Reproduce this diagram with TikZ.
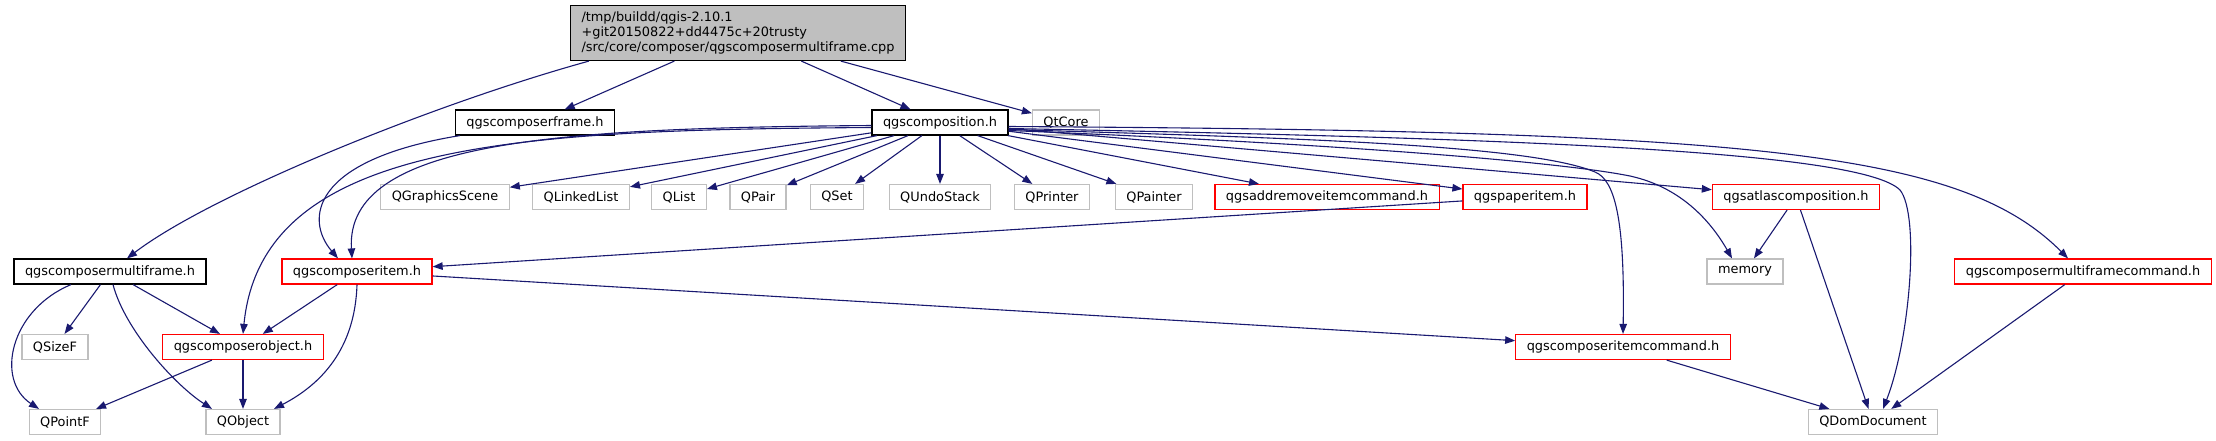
\documentclass[tikz,border=0pt]{standalone}
\usepackage{fontspec}
\setmainfont{DejaVu Sans}
\usetikzlibrary{arrows.meta}
\definecolor{edgeblue}{HTML}{191970}
\definecolor{extgray}{HTML}{BFBFBF}

\begin{document}
\begin{tikzpicture}[
    x=1pt, y=-1pt,
    box/.style={draw=black, line width=1.2pt, fill=white, inner xsep=11pt, inner ysep=0pt,
        minimum height=25pt, font=\fontsize{12.9}{15}\selectfont},
    rootbox/.style={box, fill=extgray, align=left, minimum height=55pt},
    redbox/.style={box, draw=red},
    extbox/.style={box, draw=extgray},
    line/.style={-{Triangle[length=10pt, width=7.5pt]}, draw=edgeblue, line width=1.1pt}
]
    \useasboundingbox (0,0) rectangle (2216,440);

    \node[rootbox] (root) at (738,33) {/tmp/buildd/qgis-2.10.1\\+git20150822+dd4475c+20trusty\\/src/core/composer/qgscomposermultiframe.cpp};

    \node[box] (frame) at (535,122.5) {qgscomposerframe.h};
    \node[box] (comp) at (940,122.5) {qgscomposition.h};
    \node[extbox] (qtcore) at (1066,122.5) {QtCore};

    \node[extbox] (gscene) at (445,197) {QGraphicsScene};
    \node[extbox] (linkedlist) at (581,197) {QLinkedList};
    \node[extbox] (qlist) at (679,197) {QList};
    \node[extbox] (qpair) at (758,197) {QPair};
    \node[extbox] (qset) at (837,197) {QSet};
    \node[extbox] (undostack) at (940,197) {QUndoStack};
    \node[extbox] (printer) at (1052,197) {QPrinter};
    \node[extbox] (painter) at (1154,197) {QPainter};
    \node[redbox] (addremove) at (1327,197) {qgsaddremoveitemcommand.h};
    \node[redbox] (paperitem) at (1525,197) {qgspaperitem.h};
    \node[redbox] (atlas) at (1796,197) {qgsatlascomposition.h};

    \node[box] (multiframe) at (110,271.5) {qgscomposermultiframe.h};
    \node[redbox] (item) at (357,271.5) {qgscomposeritem.h};
    \node[extbox] (memory) at (1745,271.5) {memory};
    \node[redbox] (mfcommand) at (2083,271.5) {qgscomposermultiframecommand.h};

    \node[extbox] (sizef) at (55,347) {QSizeF};
    \node[redbox] (object) at (243,347) {qgscomposerobject.h};
    \node[redbox] (itemcommand) at (1623,347) {qgscomposeritemcommand.h};

    \node[extbox] (pointf) at (65,422) {QPointF};
    \node[extbox] (qobject) at (243,422) {QObject};
    \node[extbox] (domdoc) at (1873,422) {QDomDocument};

    \draw[line] ([xshift=19pt]root.south west) .. controls (430,105) and (210,195) .. ([xshift=17pt]multiframe.north);
    \draw[line] (root) -- (frame);
    \draw[line] (root) -- (comp);
    \draw[line] (root) -- (qtcore);

    \draw[line] ([xshift=5pt]frame.south west) .. controls (310,160) and (305,220) .. ([xshift=-19pt]item.north);

    \draw[line] ([yshift=-3pt]comp.west) .. controls (560,128) and (345,140) .. ([xshift=-5pt]item.north);
    \draw[line] ([yshift=-5pt]comp.west) .. controls (520,130) and (262,140) .. (object.north);
    \draw[line] (comp) -- (gscene);
    \draw[line] (comp) -- (linkedlist);
    \draw[line] (comp) -- (qlist);
    \draw[line] (comp) -- (qpair);
    \draw[line] (comp) -- (qset);
    \draw[line] (comp) -- (undostack);
    \draw[line] (comp) -- (printer);
    \draw[line] (comp) -- (painter);
    \draw[line] (comp) -- (addremove);
    \draw[line] (comp) -- (paperitem);
    \draw[line] (comp) -- (atlas);
    \draw[line] ([yshift=-8pt]comp.east) .. controls (1300,142) and (1550,160) .. (1630,176)
        .. controls (1680,187) and (1710,220) .. ([xshift=-13pt]memory.north);
    \draw[line] ([yshift=-7pt]comp.east) .. controls (1300,138) and (1530,145) .. (1595,172)
        .. controls (1615,180) and (1625,220) .. (itemcommand.north);
    \draw[line] ([yshift=-6pt]comp.east) .. controls (1500,138) and (1860,150) .. (1900,190)
        .. controls (1920,215) and (1910,340) .. ([xshift=10pt]domdoc.north);
    \draw[line] ([yshift=-4pt]comp.east) .. controls (1750,131) and (1960,150) .. ([xshift=-15pt]mfcommand.north);

    \draw[line] (paperitem) -- (item);
    \draw[line] (atlas) -- (memory);
    \draw[line] (atlas) -- (domdoc);

    \draw[line] (multiframe) -- (sizef);
    \draw[line] (multiframe) -- (object);
    \draw[line] ([xshift=-39pt]multiframe.south) .. controls (10,310) and (-5,380) .. ([xshift=-26pt]pointf.north);
    \draw[line] ([xshift=3pt]multiframe.south) .. controls (125,330) and (175,385) .. ([xshift=-31pt]qobject.north);

    \draw[line] (item) -- (object);
    \draw[line] (item) -- (itemcommand);
    \draw[line] (item.south) .. controls (355,350) and (320,385) .. ([xshift=31pt]qobject.north);

    \draw[line] (object) -- (pointf);
    \draw[line] (object) -- (qobject);

    \draw[line] (itemcommand) -- (domdoc);
    \draw[line] (mfcommand) -- (domdoc);
\end{tikzpicture}
\end{document}
